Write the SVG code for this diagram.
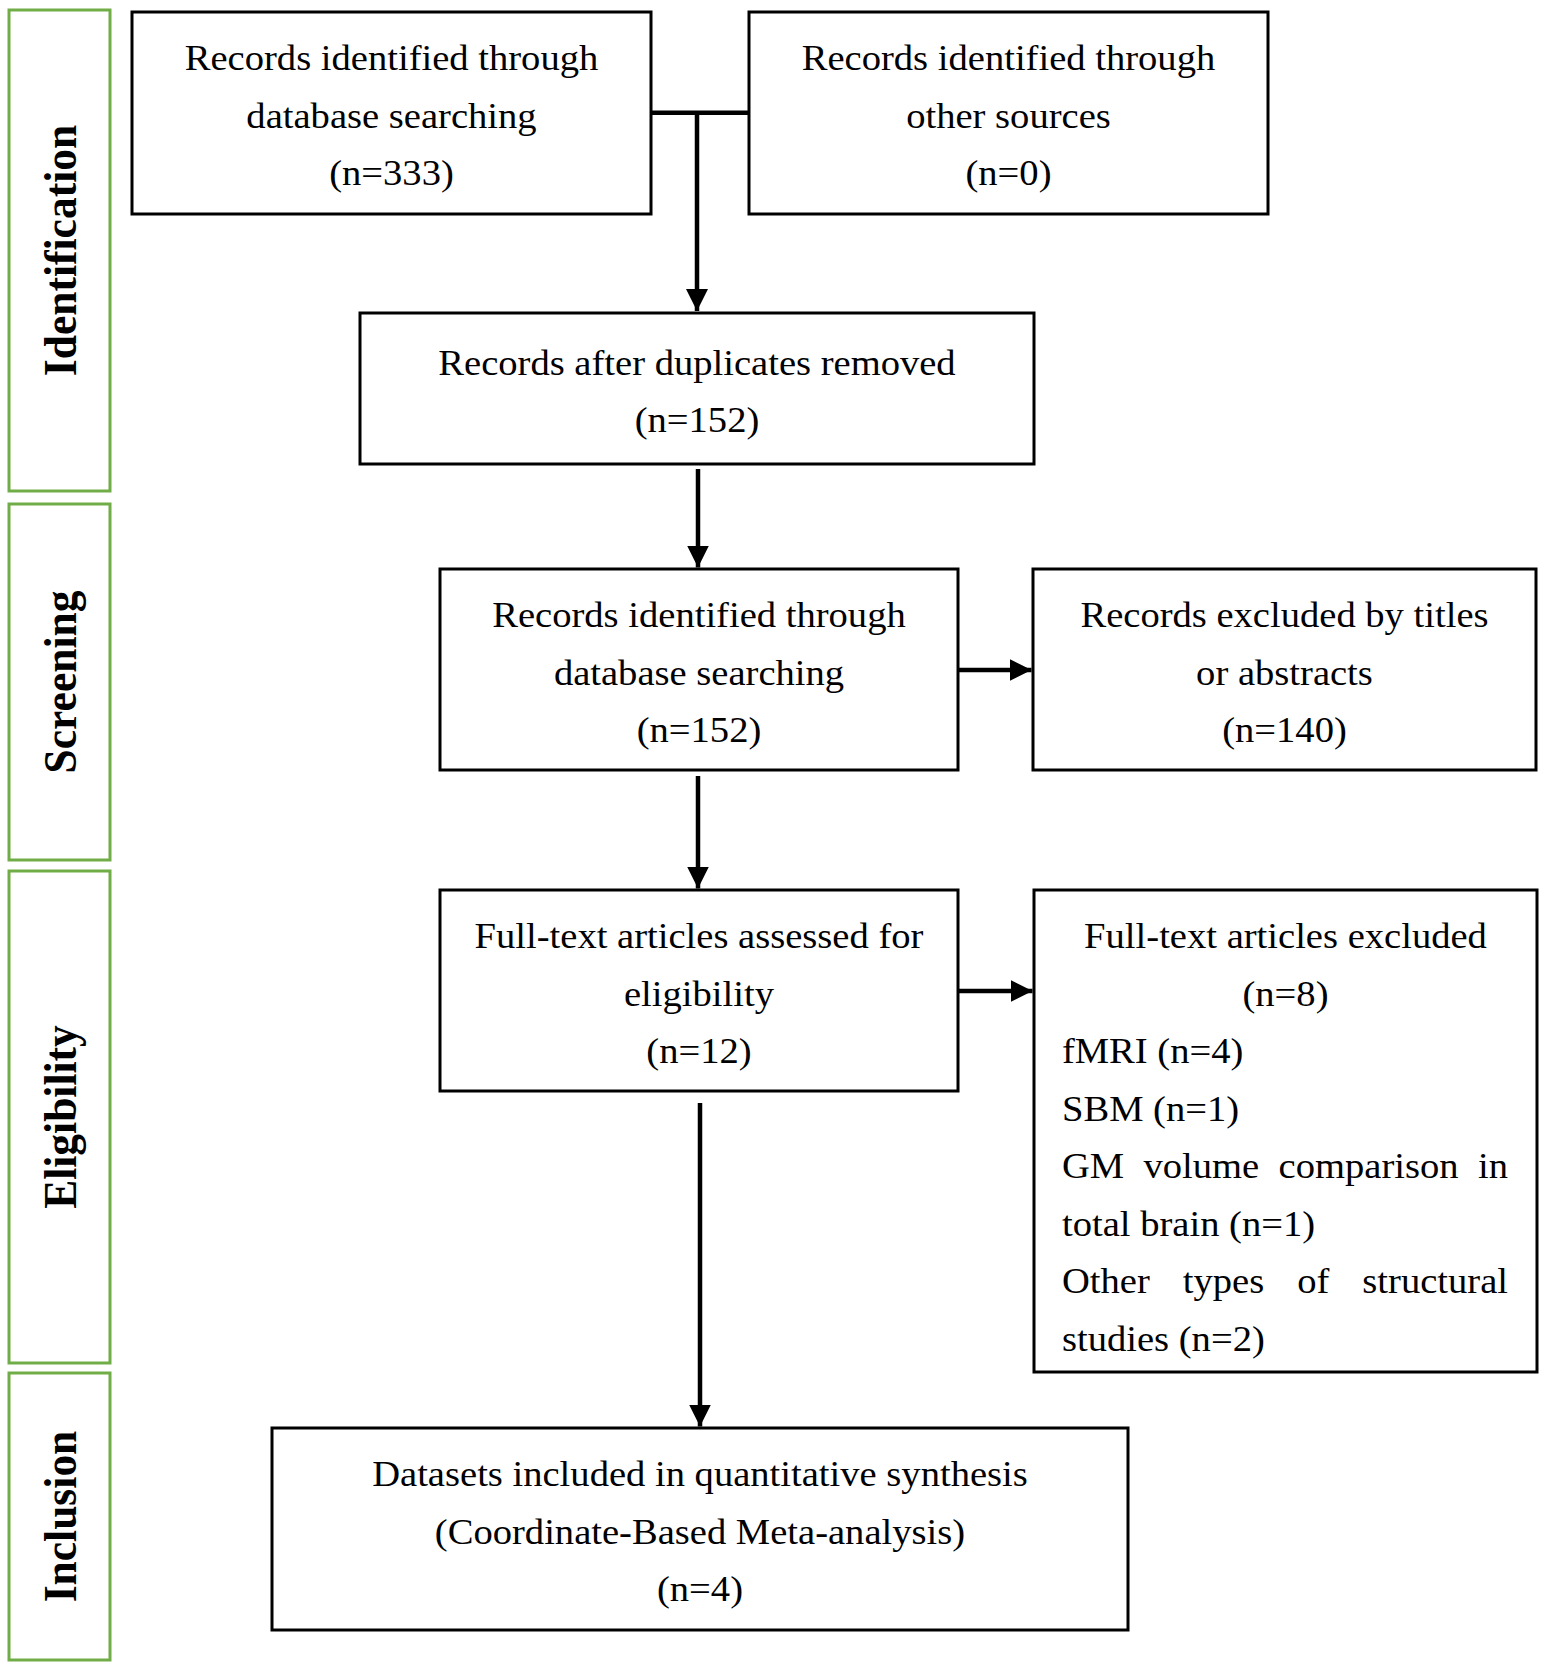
<svg xmlns="http://www.w3.org/2000/svg" width="1547" height="1671" viewBox="0 0 1547 1671">
<style>
.bg{fill:#ffffff}
.stage{fill:none;stroke:#70AD47;stroke-width:3}
.box{fill:#ffffff;stroke:#000000;stroke-width:3}
.conn{fill:none;stroke:#000000;stroke-width:4.5}
.t{font-family:"Liberation Serif","Times New Roman",serif;font-size:35.5px;fill:#000000;text-anchor:middle}
.l{text-anchor:start}
.r{text-anchor:end}
.lab{font-family:"Liberation Serif","Times New Roman",serif;font-size:43.5px;font-weight:bold;fill:#000000;text-anchor:middle}
</style>
<defs>
<marker id="arr" markerUnits="userSpaceOnUse" markerWidth="22" markerHeight="22" viewBox="0 0 22 22" refX="22" refY="11" orient="auto">
<path d="M0,0 L22,11 L0,22 Z" fill="#000000"/>
</marker>
</defs>
<rect class="bg" x="0" y="0" width="1547" height="1671"/>

<g id="stage-identification">
<rect class="stage" x="9" y="10" width="101" height="481"/>
<text class="lab" transform="translate(76,250.5) scale(1.087 1) rotate(-90)">Identification</text>
</g>
<g id="stage-screening">
<rect class="stage" x="9" y="504" width="101" height="356"/>
<text class="lab" transform="translate(76,682) scale(1.087 1) rotate(-90)">Screening</text>
</g>
<g id="stage-eligibility">
<rect class="stage" x="9" y="871" width="101" height="492"/>
<text class="lab" transform="translate(76,1117) scale(1.087 1) rotate(-90)">Eligibility</text>
</g>
<g id="stage-inclusion">
<rect class="stage" x="9" y="1373" width="101" height="287"/>
<text class="lab" transform="translate(76,1516.5) scale(1.087 1) rotate(-90)">Inclusion</text>
</g>

<g id="connectors">
<path class="conn" d="M651,112.7 H749"/>
<path class="conn" d="M697,112.7 V311" marker-end="url(#arr)"/>
<path class="conn" d="M698,469 V567.5" marker-end="url(#arr)"/>
<path class="conn" d="M958,670 H1031.5" marker-end="url(#arr)"/>
<path class="conn" d="M698,776 V888.5" marker-end="url(#arr)"/>
<path class="conn" d="M958,991 H1032.5" marker-end="url(#arr)"/>
<path class="conn" d="M700,1103 V1426.5" marker-end="url(#arr)"/>
</g>

<g id="node-db-records">
<rect class="box" x="132" y="12" width="519" height="202"/>
<g transform="scale(1.087 1)">
<text class="t" x="360.17" y="70.5">Records identified through</text>
<text class="t" x="360.17" y="128">database searching</text>
<text class="t" x="360.17" y="185.5">(n=333)</text>
</g>
</g>

<g id="node-other-records">
<rect class="box" x="749" y="12" width="519" height="202"/>
<g transform="scale(1.087 1)">
<text class="t" x="927.78" y="70.5">Records identified through</text>
<text class="t" x="927.78" y="128">other sources</text>
<text class="t" x="927.78" y="185.5">(n=0)</text>
</g>
</g>

<g id="node-dedup">
<rect class="box" x="360" y="313" width="674" height="151"/>
<g transform="scale(1.087 1)">
<text class="t" x="641.21" y="375">Records after duplicates removed</text>
<text class="t" x="641.21" y="432.5">(n=152)</text>
</g>
</g>

<g id="node-screened">
<rect class="box" x="440" y="569" width="518" height="201"/>
<g transform="scale(1.087 1)">
<text class="t" x="643.05" y="627.5">Records identified through</text>
<text class="t" x="643.05" y="685">database searching</text>
<text class="t" x="643.05" y="742.5">(n=152)</text>
</g>
</g>

<g id="node-excluded-titles">
<rect class="box" x="1033" y="569" width="503" height="201"/>
<g transform="scale(1.087 1)">
<text class="t" x="1181.69" y="627.5">Records excluded by titles</text>
<text class="t" x="1181.69" y="685">or abstracts</text>
<text class="t" x="1181.69" y="742.5">(n=140)</text>
</g>
</g>

<g id="node-fulltext">
<rect class="box" x="440" y="890" width="518" height="201"/>
<g transform="scale(1.087 1)">
<text class="t" x="643.05" y="948.5">Full-text articles assessed for</text>
<text class="t" x="643.05" y="1006">eligibility</text>
<text class="t" x="643.05" y="1063.5">(n=12)</text>
</g>
</g>

<g id="node-fulltext-excluded">
<rect class="box" x="1034" y="890" width="503" height="482"/>
<g transform="scale(1.087 1)">
<text class="t" x="1182.61" y="948.5">Full-text articles excluded</text>
<text class="t" x="1182.61" y="1006">(n=8)</text>
<text class="t l" x="976.99" y="1063.5">fMRI (n=4)</text>
<text class="t l" x="976.99" y="1121">SBM (n=1)</text>
<text class="t l" x="976.99" y="1178.5">GM</text>
<text class="t l" x="1051.98" y="1178.5">volume</text>
<text class="t l" x="1176.26" y="1178.5">comparison</text>
<text class="t r" x="1387.30" y="1178.5">in</text>
<text class="t l" x="976.99" y="1236">total brain (n=1)</text>
<text class="t l" x="976.99" y="1293.5">Other</text>
<text class="t l" x="1088.13" y="1293.5">types</text>
<text class="t l" x="1193.38" y="1293.5">of</text>
<text class="t r" x="1387.30" y="1293.5">structural</text>
<text class="t l" x="976.99" y="1351">studies (n=2)</text>
</g>
</g>

<g id="node-included">
<rect class="box" x="272" y="1428" width="856" height="202"/>
<g transform="scale(1.087 1)">
<text class="t" x="643.97" y="1486.5">Datasets included in quantitative synthesis</text>
<text class="t" x="643.97" y="1544">(Coordinate-Based Meta-analysis)</text>
<text class="t" x="643.97" y="1601.5">(n=4)</text>
</g>
</g>
</svg>
